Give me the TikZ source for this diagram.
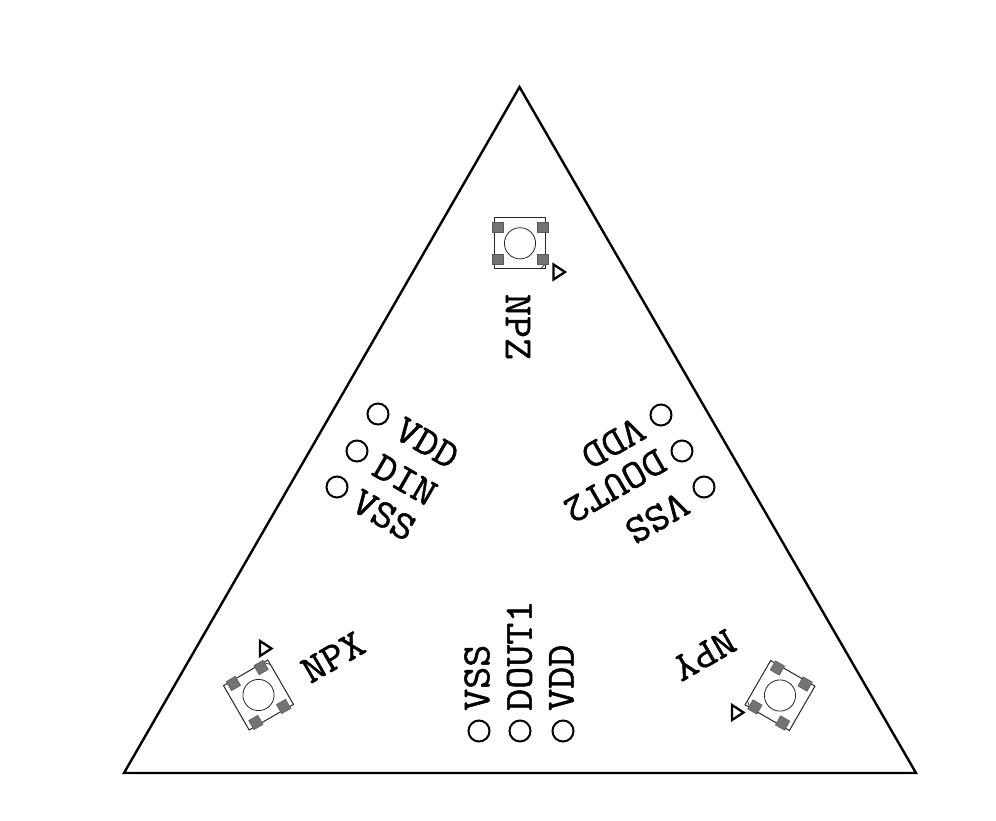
\documentclass[tikz,border=0pt]{standalone}
\usepackage{fontspec}
\setmonofont[FakeBold=1.2,FakeStretch=1.07]{Latin Modern Mono}
\tikzset{
 x=1pt,y=-1pt,
 board/.style={draw=black,line width=2.4pt,line join=miter},
 hole/.style={circle,draw=black,line width=2pt,minimum size=21pt,inner sep=0pt},
 lbl/.style={inner sep=0pt,font=\fontsize{40}{40}\selectfont\ttfamily},
 ledbody/.style={draw=black!85,line width=1pt},
 pad/.style={fill=black!55,draw=black!65,line width=.5pt},
 marker/.style={draw=black,line width=2.3pt,line join=miter,fill=white},
}
\newcommand{\ledpart}[3]{%
 \begin{scope}[shift={(#1,#2)},rotate=#3]
  \draw[ledbody] (-25.6,-25.6) rectangle (25.6,25.6);
  \draw[ledbody,line width=.7pt] (20.5,25.6) -- (25.6,20.5);
  \draw[ledbody,line width=.8pt] (0,0) circle (15.6);
  \foreach \px/\py in {-22.5/-16,22.5/-16,-22.5/16,22.5/16}
   \filldraw[pad] (\px-5.3,\py-5.3) rectangle (\px+5.3,\py+5.3);
 \end{scope}}
\newcommand{\ledmark}[2]{\draw[marker] (#1-5,#2-7.5) -- (#1+6.5,#2) -- (#1-5,#2+7.5) -- cycle;}
\begin{document}
\begin{tikzpicture}
\useasboundingbox (0,0) rectangle (996,820);
\coordinate (apex) at (519.5,87);
\coordinate (bl) at (124,773);
\coordinate (br) at (916,773);
\draw[board] (apex) -- (bl) -- (br) -- cycle;
\ledpart{520}{243.3}{0}
\ledmark{558.5}{272}
\ledpart{258.5}{695}{120}
\ledmark{265}{648.5}
\ledpart{780}{695.5}{-120}
\ledmark{737}{712.5}
\node[lbl,rotate=-90] (npz) at (518,327) {NPZ};
\node[lbl,rotate=30] (npx) at (333,657) {NPX};
\node[lbl,rotate=210] (npy) at (704,655) {NPY};
\node[hole] (h1) at (479,731) {};
\node[hole] (h2) at (520,731) {};
\node[hole] (h3) at (563,731) {};
\node[lbl,rotate=90,anchor=west] (t1) at (477,711) {VSS};
\node[lbl,rotate=90,anchor=west] (t2) at (519.5,711) {DOUT1};
\node[lbl,rotate=90,anchor=west] (t3) at (561.5,711) {VDD};
\node[hole] (h4) at (378,414) {};
\node[hole] (h5) at (357,451) {};
\node[hole] (h6) at (337,487) {};
\node[lbl,rotate=-30] (t4) at (427,443) {VDD};
\node[lbl,rotate=-30] (t5) at (405,480) {DIN};
\node[lbl,rotate=-30] (t6) at (384,515) {VSS};
\node[hole] (h7) at (661,415) {};
\node[hole] (h8) at (682,451) {};
\node[hole] (h9) at (704,487) {};
\node[lbl,rotate=210] (t7) at (613,443) {VDD};
\node[lbl,rotate=210] (t8) at (615,486) {DOUT2};
\node[lbl,rotate=210] (t9) at (657,518) {VSS};
\end{tikzpicture}
\end{document}
